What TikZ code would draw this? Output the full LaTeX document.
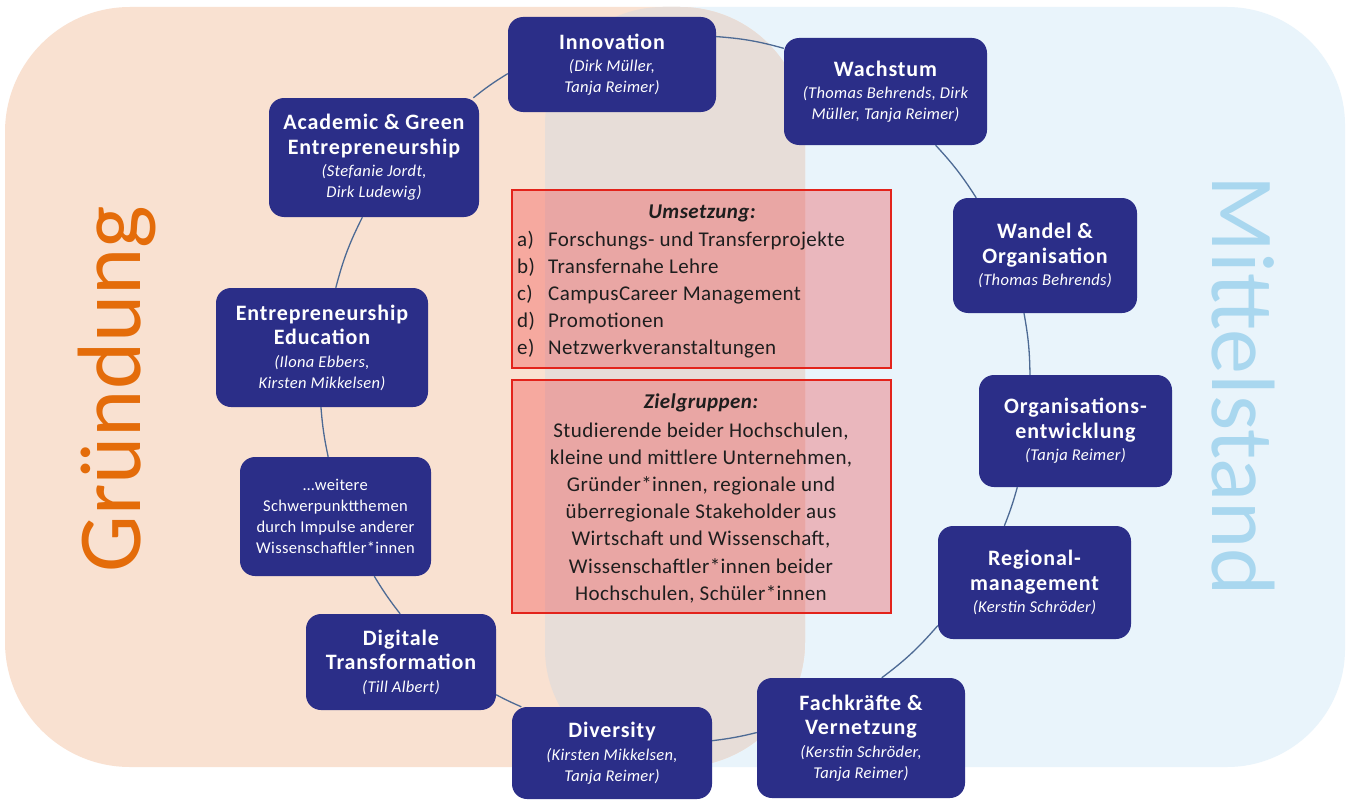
\documentclass[tikz,border=0pt]{standalone}
\usepackage{fontspec}
\setmainfont{Carlito}
\newfontfamily\titlefam[LetterSpace=4]{Carlito}
\newfontfamily\namefam[LetterSpace=2]{Carlito}
\newfontfamily\bodyfam[LetterSpace=2]{Carlito}
\newfontfamily\bigfam{Carlito}
\definecolor{navy}{HTML}{2B2E88}
\definecolor{peach}{HTML}{F9E1D1}
\definecolor{skyb}{HTML}{E9F4FB}
\definecolor{overl}{HTML}{E7DDD8}
\definecolor{connc}{HTML}{4D6A94}
\definecolor{orangec}{HTML}{E46C0A}
\definecolor{lbluec}{HTML}{A9D7EF}
\definecolor{redfill}{RGB}{240,20,25}
\definecolor{redline}{HTML}{E3231B}
\definecolor{darktext}{HTML}{1E1E1E}
\newcommand\boxtitle[1]{{\titlefam\bfseries\fontsize{22}{24.5}\selectfont #1}}
\newcommand\boxname[1]{{\namefam\itshape #1}}
\tikzset{
  topic/.style={fill=navy, rounded corners=15pt, text=white, align=center, inner sep=0pt,
    font=\namefam\fontsize{16.5}{21}\selectfont},
  conn/.style={draw=connc, line width=1.3pt},
  redbox/.style={fill=redfill, fill opacity=0.27, draw=redline, draw opacity=1, line width=2pt, inner sep=0pt},
  boxtext/.style={text=darktext, inner sep=0pt, font=\bodyfam\fontsize{21}{27.2}\selectfont},
  bigword/.style={anchor=base, inner sep=0pt, font=\bigfam\fontsize{90}{90}\selectfont}
}
\begin{document}
\begin{tikzpicture}[x=1pt,y=-1pt]
\useasboundingbox (0,0) rectangle (1347,800);
\fill[white] (0,0) rectangle (1347,800);
% backgrounds
\fill[skyb, rounded corners=118pt] (545,7) rectangle (1345,767);
\fill[peach, rounded corners=125pt] (5,7) rectangle (805,767);
\begin{scope}
  \clip[rounded corners=125pt] (5,7) rectangle (805,767);
  \fill[overl, rounded corners=118pt] (545,7) rectangle (1345,767);
\end{scope}
% big words
\node[bigword, rotate=90, text=orangec] (gruendung) at (140,389) {Gründung};
\node[bigword, rotate=-90, text=lbluec] (mittelstand) at (1212,386) {Mittelstand};
% red boxes
\node[redbox, minimum width=379pt, minimum height=178pt] (umsbox) at (701.5,279) {};
\node[redbox, minimum width=379pt, minimum height=233pt] (zielbox) at (701.5,496.5) {};
\node[boxtext, anchor=base, font=\bodyfam\bfseries\itshape\fontsize{21}{27}\selectfont] (umstitle) at (702,218) {Umsetzung:};
\node[boxtext, anchor=base west] (umslist) at (517,246) {\begin{tabular}[t]{@{}p{31pt}@{}l@{}}
a) & Forschungs- und Transferprojekte\\
b) & Transfernahe Lehre\\
c) & CampusCareer Management\\
d) & Promotionen\\
e) & Netzwerkveranstaltungen
\end{tabular}};
\node[boxtext, anchor=base, font=\bodyfam\bfseries\itshape\fontsize{21}{27}\selectfont] (zieltitle) at (701,408) {Zielgruppen:};
\node[boxtext, anchor=base] (ziellist) at (701,437) {\begin{tabular}[t]{@{}c@{}}
Studierende beider Hochschulen,\\
kleine und mittlere Unternehmen,\\
Gründer*innen, regionale und\\
überregionale Stakeholder aus\\
Wirtschaft und Wissenschaft,\\
Wissenschaftler*innen beider\\
Hochschulen, Schüler*innen
\end{tabular}};
% topic boxes
\node[topic, minimum width=208pt, minimum height=95pt] (inno) at (612,64.5)
  {\boxtitle{Innovation}\\[1.5pt]\boxname{(Dirk Müller,}\\\boxname{Tanja Reimer)}};
\node[topic, minimum width=203pt, minimum height=107pt] (wachs) at (885.5,91.5)
  {\boxtitle{Wachstum}\\[1.5pt]\boxname{(Thomas Behrends, Dirk}\\\boxname{Müller, Tanja Reimer)}};
\node[topic, minimum width=210pt, minimum height=119pt] (acad) at (374,157.5)
  {\boxtitle{Academic \& Green}\\[3.5pt]\boxtitle{Entrepreneurship}\\[1.5pt]\boxname{(Stefanie Jordt,}\\\boxname{Dirk Ludewig)}};
\node[topic, minimum width=212pt, minimum height=119pt] (ented) at (322,347.5)
  {\boxtitle{Entrepreneurship}\\[3.5pt]\boxtitle{Education}\\[1.5pt]\boxname{(Ilona Ebbers,}\\\boxname{Kirsten Mikkelsen)}};
\node[topic, minimum width=184pt, minimum height=115pt] (wandel) at (1045,255.5)
  {\boxtitle{Wandel \&}\\[3.5pt]\boxtitle{Organisation}\\[1.5pt]\boxname{(Thomas Behrends)}};
\node[topic, minimum width=193pt, minimum height=112pt] (org) at (1075.5,431)
  {\boxtitle{Organisations-}\\[3.5pt]\boxtitle{entwicklung}\\[1.5pt]\boxname{(Tanja Reimer)}};
\node[topic, minimum width=191pt, minimum height=119pt] (weit) at (335.5,516.5)
  {…weitere\\Schwerpunktthemen\\durch Impulse anderer\\Wissenschaftler*innen};
\node[topic, minimum width=193pt, minimum height=113pt] (reg) at (1034.5,582.5)
  {\boxtitle{Regional-}\\[3.5pt]\boxtitle{management}\\[1.5pt]\boxname{(Kerstin Schröder)}};
\node[topic, minimum width=190pt, minimum height=96pt] (digi) at (401,662)
  {\boxtitle{Digitale}\\[3.5pt]\boxtitle{Transformation}\\[1.5pt]\boxname{(Till Albert)}};
\node[topic, minimum width=200pt, minimum height=92pt] (div) at (612,753)
  {\boxtitle{Diversity}\\[1.5pt]\boxname{(Kirsten Mikkelsen,}\\\boxname{Tanja Reimer)}};
\node[topic, minimum width=208pt, minimum height=120pt] (fach) at (861,738)
  {\boxtitle{Fachkräfte \&}\\[3.5pt]\boxtitle{Vernetzung}\\[1.5pt]\boxname{(Kerstin Schröder,}\\\boxname{Tanja Reimer)}};
% connectors
\draw[conn] (acad.31.8) to[bend left=3.6] (inno.185.8);
\draw[conn] (inno.15.8) to[bend left=5.6] (wachs.157.8);
\draw[conn] (wachs.-47.7) to[bend left=5.1] (wandel.140.1);
\draw[conn] (wandel.-110) to[bend left=4.7] (org.129);
\draw[conn] (org.-136.7) to[bend left=3.1] (reg.118.4);
\draw[conn] (reg.204.5) to[bend left=6.1] (fach.71.8);
\draw[conn] (fach.177.2) to[bend left=3.4] (div.7.4);
\draw[conn] (div.153.4) to[bend left=2] (digi.-19.2);
\draw[conn] (digi.91) to[bend left=3.4] (weit.-57.3);
\draw[conn] (weit.97.9) to[bend left=3.7] (ented.-91);
\draw[conn] (ented.77) to[bend left=6] (acad.-101.2);
\end{tikzpicture}
\end{document}
